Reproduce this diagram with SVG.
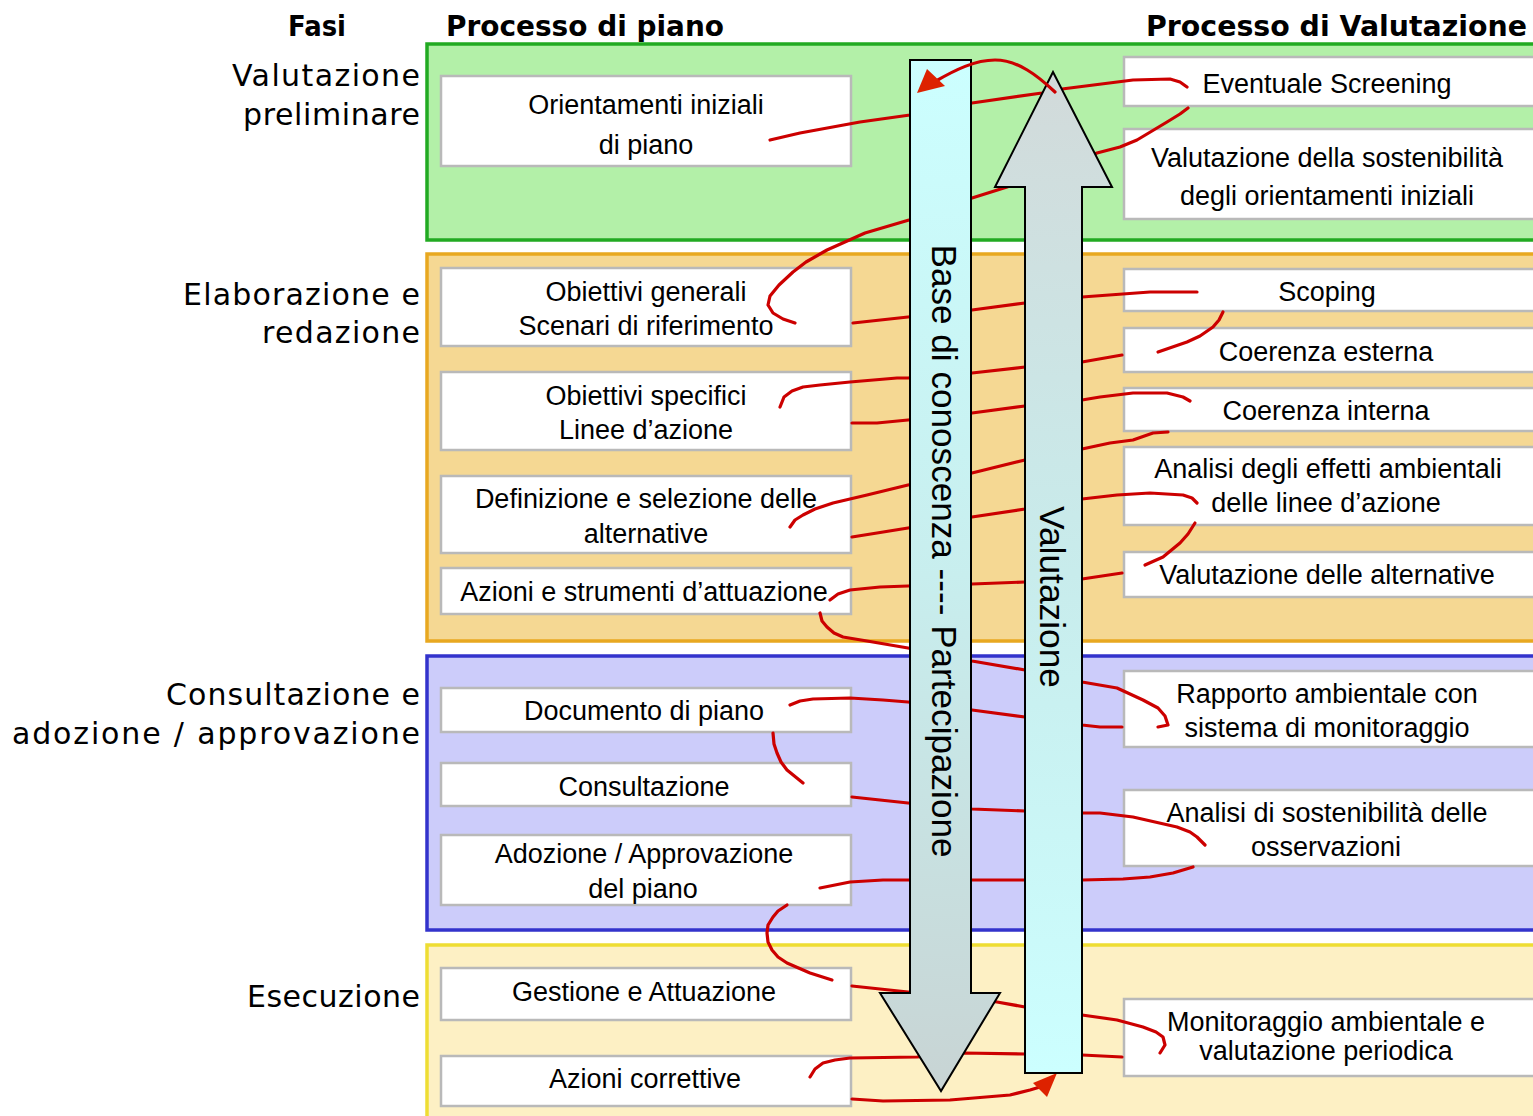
<svg xmlns="http://www.w3.org/2000/svg" width="1533" height="1116" viewBox="0 0 1533 1116">
<defs>
<style>
.band{stroke-width:3.5}
.box{fill:#ffffff;stroke:#b9b9b9;stroke-width:2.5}
.bt{font-family:"Liberation Sans",Arial,sans-serif;font-size:27px;fill:#000;text-anchor:middle}
.ph{font-family:"DejaVu Sans","Liberation Sans",sans-serif;font-size:30px;fill:#000;text-anchor:end}
.hd{font-family:"DejaVu Sans","Liberation Sans",sans-serif;font-size:28px;font-weight:bold;fill:#000}
.rt{font-family:"Liberation Sans",Arial,sans-serif;font-size:35px;fill:#000;text-anchor:middle}
.con{fill:none;stroke:#cc0000;stroke-width:3.2;stroke-linejoin:round;stroke-linecap:round}
.big{stroke:#000;stroke-width:2}
.ah{fill:#dd2200}
</style>
<linearGradient id="gBase" gradientUnits="userSpaceOnUse" x1="0" y1="60" x2="0" y2="1091">
<stop offset="0" stop-color="#ccffff"/>
<stop offset="0.5" stop-color="#c8eeee"/>
<stop offset="1" stop-color="#c8d4d4"/>
</linearGradient>
<linearGradient id="gVal" gradientUnits="userSpaceOnUse" x1="0" y1="72" x2="0" y2="1073">
<stop offset="0" stop-color="#d2dada"/>
<stop offset="0.5" stop-color="#c8ecec"/>
<stop offset="1" stop-color="#ccffff"/>
</linearGradient>
</defs>
<rect width="1533" height="1116" fill="#ffffff"/>

<g id="headers">
<text class="hd" x="288" y="36" textLength="58" lengthAdjust="spacingAndGlyphs">Fasi</text>
<text class="hd" x="446" y="36" textLength="278" lengthAdjust="spacingAndGlyphs">Processo di piano</text>
<text class="hd" x="1146" y="36" textLength="381" lengthAdjust="spacingAndGlyphs">Processo di Valutazione</text>
</g>

<g id="phases">
<rect class="band" x="427" y="44" width="1115" height="196" fill="#b3f0a8" stroke="#22aa22"/>
<rect class="band" x="427" y="254" width="1115" height="387" fill="#f5d893" stroke="#e8a820"/>
<rect class="band" x="427" y="656" width="1115" height="274" fill="#ccccfa" stroke="#3333cc"/>
<rect class="band" x="427" y="945" width="1115" height="180" fill="#fdf0c4" stroke="#eedd33"/>
<text class="ph" x="420" y="86" textLength="188" lengthAdjust="spacing">Valutazione</text>
<text class="ph" x="420" y="125" textLength="177" lengthAdjust="spacing">preliminare</text>
<text class="ph" x="420" y="305" textLength="237" lengthAdjust="spacing">Elaborazione e</text>
<text class="ph" x="420" y="343" textLength="158" lengthAdjust="spacing">redazione</text>
<text class="ph" x="420" y="705" textLength="254" lengthAdjust="spacing">Consultazione e</text>
<text class="ph" x="420" y="744" textLength="408" lengthAdjust="spacing">adozione / approvazione</text>
<text class="ph" x="420" y="1007" textLength="173" lengthAdjust="spacing">Esecuzione</text>
</g>

<g id="n-orientamenti"><rect class="box" x="441" y="76" width="410" height="90"/><text class="bt" x="646" y="114">Orientamenti iniziali</text><text class="bt" x="646" y="154">di piano</text></g>
<g id="n-obiettivi-generali"><rect class="box" x="441" y="268" width="410" height="78"/><text class="bt" x="646" y="301">Obiettivi generali</text><text class="bt" x="646" y="335">Scenari di riferimento</text></g>
<g id="n-obiettivi-specifici"><rect class="box" x="441" y="372" width="410" height="78"/><text class="bt" x="646" y="405">Obiettivi specifici</text><text class="bt" x="646" y="439">Linee d’azione</text></g>
<g id="n-definizione"><rect class="box" x="441" y="476" width="410" height="77"/><text class="bt" x="646" y="508">Definizione e selezione delle</text><text class="bt" x="646" y="543">alternative</text></g>
<g id="n-azioni-strumenti"><rect class="box" x="441" y="568" width="410" height="46"/><text class="bt" x="644" y="601">Azioni e strumenti d’attuazione</text></g>
<g id="n-documento"><rect class="box" x="441" y="688" width="410" height="44"/><text class="bt" x="644" y="720">Documento di piano</text></g>
<g id="n-consultazione"><rect class="box" x="441" y="763" width="410" height="43"/><text class="bt" x="644" y="796">Consultazione</text></g>
<g id="n-adozione"><rect class="box" x="441" y="835" width="410" height="70"/><text class="bt" x="644" y="863">Adozione / Approvazione</text><text class="bt" x="643" y="898">del piano</text></g>
<g id="n-gestione"><rect class="box" x="441" y="968" width="410" height="52"/><text class="bt" x="644" y="1001">Gestione e Attuazione</text></g>
<g id="n-azioni-correttive"><rect class="box" x="441" y="1056" width="410" height="50"/><text class="bt" x="645" y="1088">Azioni correttive</text></g>

<g id="n-screening"><rect class="box" x="1124" y="57" width="420" height="49"/><text class="bt" x="1327" y="93">Eventuale Screening</text></g>
<g id="n-val-sost"><rect class="box" x="1124" y="129" width="420" height="90"/><text class="bt" x="1327" y="167">Valutazione della sostenibilità</text><text class="bt" x="1327" y="205">degli orientamenti iniziali</text></g>
<g id="n-scoping"><rect class="box" x="1124" y="269" width="420" height="42"/><text class="bt" x="1327" y="301">Scoping</text></g>
<g id="n-coer-est"><rect class="box" x="1124" y="328" width="420" height="44"/><text class="bt" x="1326" y="361">Coerenza esterna</text></g>
<g id="n-coer-int"><rect class="box" x="1124" y="388" width="420" height="43"/><text class="bt" x="1326" y="420">Coerenza interna</text></g>
<g id="n-analisi-effetti"><rect class="box" x="1124" y="447" width="420" height="78"/><text class="bt" x="1328" y="478">Analisi degli effetti ambientali</text><text class="bt" x="1326" y="512">delle linee d’azione</text></g>
<g id="n-val-alt"><rect class="box" x="1124" y="552" width="420" height="45"/><text class="bt" x="1327" y="584">Valutazione delle alternative</text></g>
<g id="n-rapporto"><rect class="box" x="1124" y="671" width="420" height="76"/><text class="bt" x="1327" y="703">Rapporto ambientale con</text><text class="bt" x="1327" y="737">sistema di monitoraggio</text></g>
<g id="n-analisi-sost"><rect class="box" x="1124" y="790" width="420" height="76"/><text class="bt" x="1327" y="822">Analisi di sostenibilità delle</text><text class="bt" x="1326" y="856">osservazioni</text></g>
<g id="n-monitoraggio"><rect class="box" x="1124" y="999" width="420" height="77"/><text class="bt" x="1326" y="1031">Monitoraggio ambientale e</text><text class="bt" x="1326" y="1060">valutazione periodica</text></g>

<g id="connectors">
<polyline class="con" points="770,140 800,133 860,122 910,115 972,103 1042,93 1062,89 1133,80 1170,79 1180,82 1187,87"/>
<polyline class="con" points="1188,108 1180,114 1167,122 1137,140 1120,147 1097,153 1007,187 972,198 909,220 865,233 827,250 806,262 793,272 779,285 770,296 768,305 773,313 783,319 795,323"/>
<polyline class="con" points="853,323 908,317 972,310 1025,303 1082,297 1150,292 1197,292"/>
<polyline class="con" points="1223,312 1219,320 1213,327 1200,336 1187,342 1158,352"/>
<polyline class="con" points="1122,355 1082,362 1025,367 972,373 908,378 897,378 850,382 820,385 803,387 792,391 784,397 780,407"/>
<polyline class="con" points="852,423 877,423 908,420 972,413 1025,406 1082,400 1100,397 1133,393 1167,393 1183,397 1190,401"/>
<polyline class="con" points="1168,432 1153,433 1133,440 1110,443 1082,449 1025,460 972,473 908,485 867,495 833,503 815,509 803,515 795,520 790,527"/>
<polyline class="con" points="852,537 877,533 908,528 972,517 1025,509 1082,499 1117,495 1150,493 1183,495 1192,498 1197,503"/>
<polyline class="con" points="1195,523 1188,534 1180,543 1163,557 1145,565"/>
<polyline class="con" points="1122,573 1082,579 1025,582 972,584 908,586 880,587 850,590 838,594 830,600"/>
<polyline class="con" points="820,613 822,621 827,627 834,633 843,637 867,641 908,648 972,661 1025,670 1082,682 1117,688 1143,700 1158,708 1165,716 1168,725 1158,727"/>
<polyline class="con" points="1122,727 1100,727 1082,725 1025,717 972,710 908,702 883,700 850,698 813,699 800,701 790,705"/>
<polyline class="con" points="773,733 774,744 777,753 781,762 787,770 803,783"/>
<polyline class="con" points="852,797 908,803 972,809 1025,811 1082,813 1100,813 1133,817 1177,827 1190,832 1197,837 1205,845"/>
<polyline class="con" points="1193,867 1173,873 1150,877 1123,879 1082,880 1025,880 972,880 908,880 883,880 850,882 820,888"/>
<polyline class="con" points="787,905 778,911 773,917 768,925 767,933 768,942 772,950 778,957 787,963 810,973 832,980"/>
<polyline class="con" points="852,986 908,992 997,1002 1025,1007 1082,1015 1117,1020 1143,1027 1156,1032 1163,1037 1165,1045 1160,1053"/>
<polyline class="con" points="1122,1057 1082,1055 1025,1054 963,1053 917,1057 850,1058 835,1060 823,1063 815,1069 810,1077"/>
<polyline class="con" points="852,1099 883,1101 950,1100 1010,1095 1030,1090 1040,1087"/>
<polygon class="ah" points="1057,1073 1033,1083 1047,1097"/>
</g>

<g id="arrow-base">
<polygon class="big" fill="url(#gBase)" points="910,60 971,60 971,993 1000,993 941,1091 880,993 910,993"/>
<text class="rt" transform="translate(932,551) rotate(90)" textLength="613" lengthAdjust="spacingAndGlyphs">Base di conoscenza ---- Partecipazione</text>
</g>
<g id="arrow-valutazione">
<polygon class="big" fill="url(#gVal)" points="1053,72 1112,187 1082,187 1082,1073 1025,1073 1025,187 995,187"/>
<text class="rt" transform="translate(1040,597) rotate(90)" textLength="182" lengthAdjust="spacingAndGlyphs">Valutazione</text>
</g>

<g id="feedback-arc">
<path class="con" d="M1055,92 C1038,76 1018,60 995,60 C975,60 955,70 936,81"/>
<polygon class="ah" points="917,93 927,69 945,86"/>
</g>
</svg>
